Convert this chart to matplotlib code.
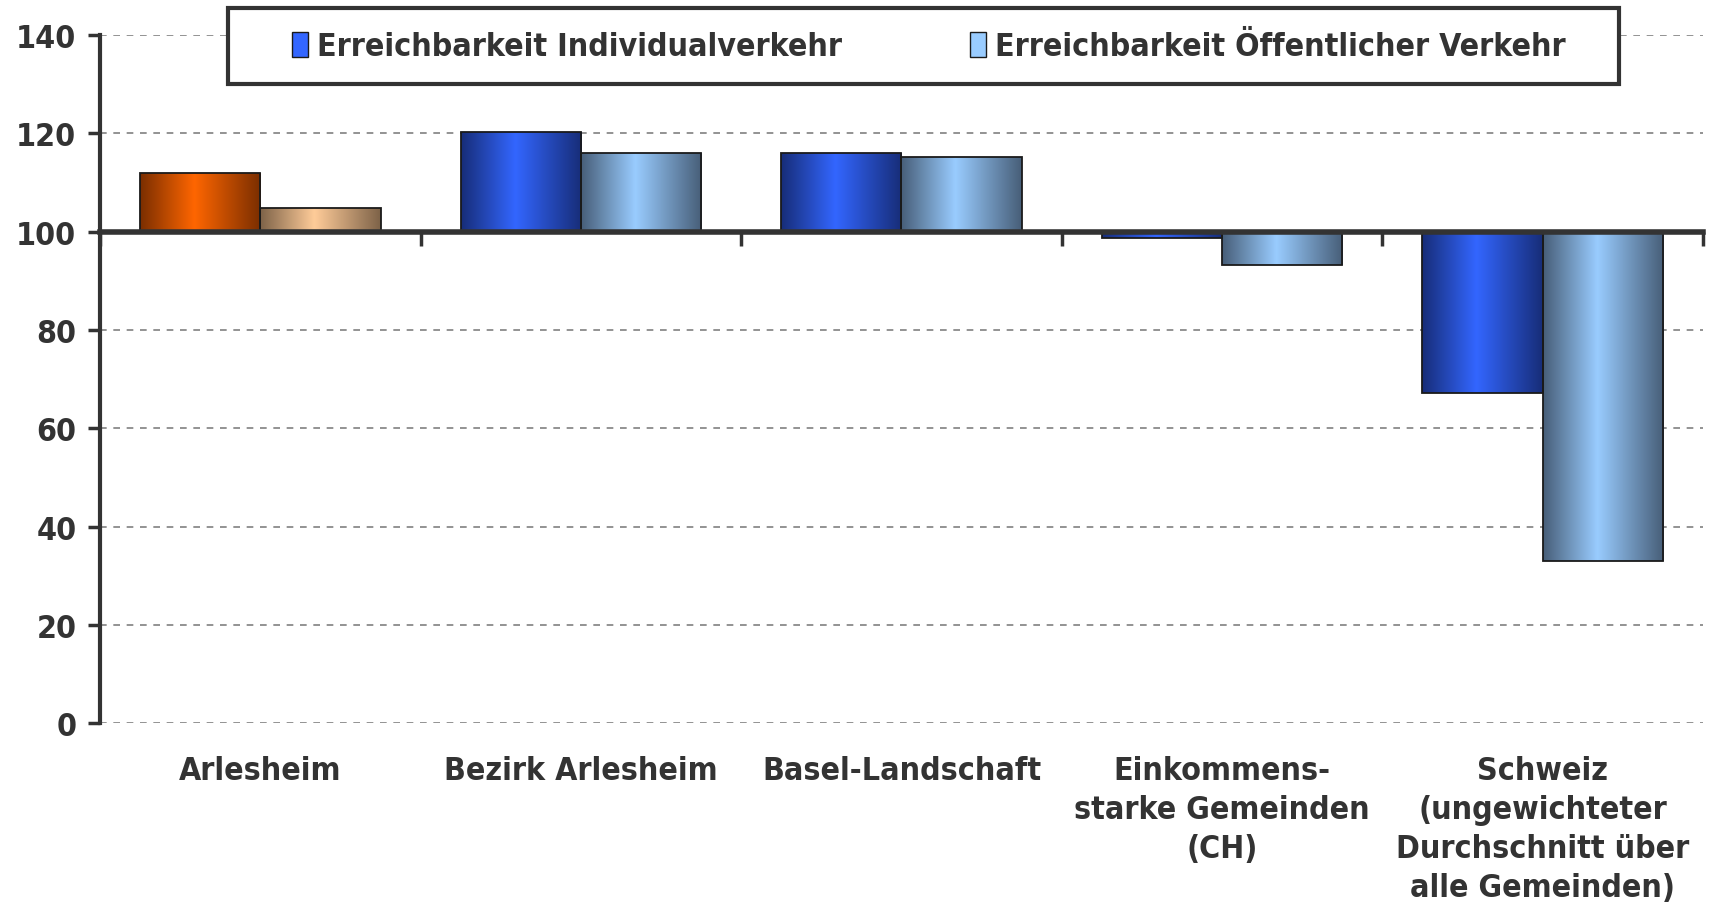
import numpy as np
import matplotlib
matplotlib.use('Agg')
from matplotlib import pyplot as plt
from matplotlib.colors import LinearSegmentedColormap
from matplotlib.patches import Patch, Rectangle

# Erreichbarkeitsindex, Schweiz = 100
categories = ['Arlesheim', 'Bezirk Arlesheim', 'Basel-Landschaft',
              'Einkommens-\nstarke Gemeinden\n(CH)',
              'Schweiz\n(ungewichteter\nDurchschnitt über\nalle Gemeinden)']
individual = [112.0, 120.3, 116.0, 98.8, 67.2]
oeffentlich = [104.8, 116.0, 115.2, 93.2, 32.9]
series_names = ['Erreichbarkeit Individualverkehr', 'Erreichbarkeit Öffentlicher Verkehr']
baseline = 100
yticks = [0, 20, 40, 60, 80, 100, 120, 140]

TXT = '#333333'
FS = 23
# (dunkel, hell) pro Reihe; Arlesheim hervorgehoben in Orange
blue_iv = ('#172d78', '#3366ff')
blue_ov = ('#475e78', '#99ccff')
orange_iv = ('#7a2e00', '#ff6600')
orange_ov = ('#7d6248', '#ffcc99')

plt.rcParams['font.family'] = 'DejaVu Sans'
plt.rcParams['font.stretch'] = 'condensed'
plt.rcParams['font.weight'] = 'bold'


def gradient_cmap(dark, bright):
    return LinearSegmentedColormap.from_list('g', [(0, dark), (0.45, bright), (1, dark)])


def fill_gradient(ax, bars, cmaps):
    grad = np.linspace(0, 1, 256).reshape(1, -1)
    for bar, cmap in zip(bars, cmaps):
        x0, w = bar.get_x(), bar.get_width()
        y0, h = bar.get_y(), bar.get_height()
        im = ax.imshow(grad, extent=[x0, x0 + w, y0, y0 + h], aspect='auto',
                       cmap=cmap, interpolation='bicubic', zorder=2)
        im.set_clip_path(bar)


fig = plt.figure(figsize=(17.09, 9.04), dpi=100)
ax = fig.add_axes([0.0585, 0.199, 0.938, 0.761])

x = np.arange(len(categories))
w = 0.375
bars_iv = ax.bar(x - w / 2, np.array(individual) - baseline, w, bottom=baseline,
                 facecolor='none', edgecolor='#1a1a1a', linewidth=1.3, zorder=3)
bars_ov = ax.bar(x + w / 2, np.array(oeffentlich) - baseline, w, bottom=baseline,
                 facecolor='none', edgecolor='#1a1a1a', linewidth=1.3, zorder=3)

fill_gradient(ax, bars_iv, [gradient_cmap(*(orange_iv if i == 0 else blue_iv)) for i in x])
fill_gradient(ax, bars_ov, [gradient_cmap(*(orange_ov if i == 0 else blue_ov)) for i in x])

ax.set_xlim(-0.5, len(categories) - 0.5)
ax.set_ylim(0, 140)
ax.set_yticks(yticks)
ax.tick_params(axis='y', labelsize=FS, colors=TXT, length=9, width=2.5, pad=8)

ax.yaxis.grid(True, linestyle=(0, (4, 4)), color='#808080', linewidth=1.2)
ax.set_axisbelow(True)

for s in ['top', 'right']:
    ax.spines[s].set_visible(False)
ax.spines['left'].set_linewidth(3)
ax.spines['left'].set_color(TXT)
ax.spines['bottom'].set_position(('data', baseline))
ax.spines['bottom'].set_linewidth(4)
ax.spines['bottom'].set_color(TXT)
ax.spines['bottom'].set_zorder(4)

ax.set_xticks(x)
ax.set_xticklabels([])
ax.tick_params(axis='x', which='major', length=0)
ax.set_xticks(np.arange(len(categories) + 1) - 0.5, minor=True)
ax.tick_params(axis='x', which='minor', length=10, width=2.5, color=TXT, direction='out')

trans = ax.get_xaxis_transform()
for i, lab in enumerate(categories):
    ax.text(i, -0.046, lab, transform=trans, ha='center', va='top',
            fontsize=FS, color=TXT, linespacing=1.34)

# Legendenrahmen separat, damit der Innenabstand links/rechts passt
fig.patches.append(Rectangle((0.1334, 0.906), 0.814, 0.084, transform=fig.transFigure,
                             facecolor='white', edgecolor=TXT, linewidth=3, zorder=5))
handles = [Patch(facecolor='#3366ff', edgecolor='#1a1a1a', linewidth=1),
           Patch(facecolor='#99ccff', edgecolor='#1a1a1a', linewidth=1)]
leg = fig.legend(handles, series_names, loc='center', ncol=2,
                 bbox_to_anchor=(0.5435, 0.947), fontsize=FS, frameon=False,
                 handlelength=0.5, handleheight=0.85, handletextpad=0.3,
                 columnspacing=4.0, borderpad=0, borderaxespad=0)
leg.set_zorder(6)
for t in leg.get_texts():
    t.set_color(TXT)

fig.savefig('out.png', dpi=100)
